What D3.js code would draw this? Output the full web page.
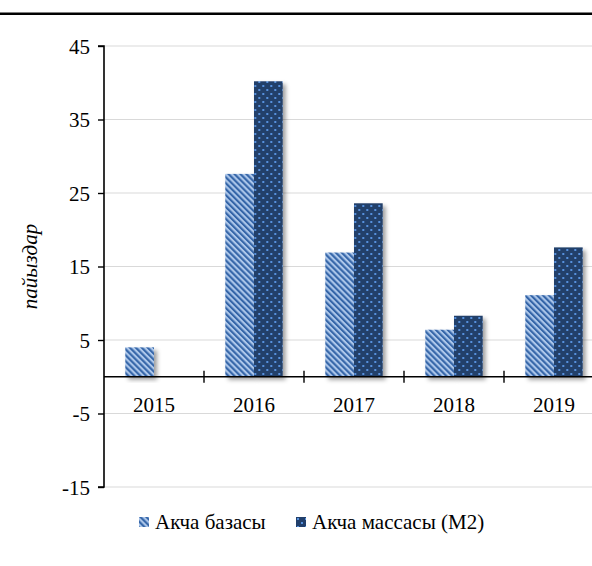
<!DOCTYPE html>
<html>
<head>
<meta charset="utf-8">
<script src="https://cdn.jsdelivr.net/npm/d3@7"></script>
<style>
  html, body { margin: 0; padding: 0; background: #fff; }
  svg { display: block; }
  svg text { font-family: "Liberation Serif", "Times New Roman", "DejaVu Serif", serif; fill: #000; }
</style>
</head>
<body>
<svg id="chart" width="592" height="566"></svg>
<script>
// Growth rates, percent
const years = ["2015", "2016", "2017", "2018", "2019"];
const baseValues = [4.0, 27.6, 16.9, 6.4, 11.1];      // Акча базасы
const m2Values = [null, 40.2, 23.6, 8.3, 17.6];       // Акча массасы (М2)
const seriesNames = ["Акча базасы", "Акча массасы (М2)"];
const yTicks = [45, 35, 25, 15, 5, -5, -15];
const yTitle = "пайыздар";

const svg = d3.select("#chart");
const W = 592, H = 566;
const plotLeft = 104, plotRight = 604, plotTop = 46, plotBottom = 487;
const FONT = "'Liberation Serif', 'Times New Roman', 'DejaVu Serif', serif";
const FS = 21;

const defs = svg.append("defs");

// diagonal stripes for the monetary base
const stripes = defs.append("pattern")
  .attr("id", "stripes").attr("patternUnits", "userSpaceOnUse")
  .attr("width", 4.2).attr("height", 10)
  .attr("patternTransform", "rotate(-45)");
stripes.append("rect").attr("width", 4.2).attr("height", 10).attr("fill", "#adc7ea");
stripes.append("rect").attr("width", 2.1).attr("height", 10).attr("fill", "#3465a8");

// dotted fill for M2
const dots = defs.append("pattern")
  .attr("id", "dots").attr("patternUnits", "userSpaceOnUse")
  .attr("width", 8).attr("height", 8);
dots.append("rect").attr("width", 8).attr("height", 8).attr("fill", "#213f6b");
dots.append("rect").attr("x", 1).attr("y", 1).attr("width", 2).attr("height", 2).attr("fill", "#5691dd");
dots.append("rect").attr("x", 5).attr("y", 5).attr("width", 2).attr("height", 2).attr("fill", "#5691dd");

const shadow = defs.append("filter").attr("id", "shadow")
  .attr("x", "-30%").attr("y", "-10%").attr("width", "170%").attr("height", "130%");
shadow.append("feDropShadow").attr("dx", 3).attr("dy", 3)
  .attr("stdDeviation", 2.2).attr("flood-color", "#000").attr("flood-opacity", 0.38);

// top rule
svg.append("line").attr("x1", 0).attr("x2", W).attr("y1", 13.8).attr("y2", 13.8)
  .attr("stroke", "#000").attr("stroke-width", 2.4);

const x = d3.scaleBand().domain(years).range([plotLeft, plotRight]).paddingInner(0).paddingOuter(0);
const y = d3.scaleLinear().domain([-15, 45]).range([plotBottom, plotTop]);
const groupW = 57.4;
const xs = d3.scaleBand().domain(seriesNames).range([0, groupW]);

// gridlines
svg.append("g").selectAll("line").data(yTicks).join("line")
  .attr("x1", plotLeft).attr("x2", W)
  .attr("y1", d => y(d)).attr("y2", d => y(d))
  .attr("stroke", "#d9d9d9").attr("stroke-width", 1);

// bars
const groups = svg.append("g").selectAll("g").data(years).join("g")
  .attr("transform", d => `translate(${x(d) + (x.bandwidth() - groupW) / 2},0)`);

groups.each(function(yr, i) {
  const g = d3.select(this);
  const vals = [baseValues[i], m2Values[i]];
  const fills = ["url(#stripes)", "url(#dots)"];
  vals.forEach((v, j) => {
    if (v == null) return;
    g.append("rect")
      .attr("x", xs(seriesNames[j]))
      .attr("width", xs.bandwidth())
      .attr("y", y(Math.max(0, v)))
      .attr("height", Math.abs(y(v) - y(0)))
      .attr("fill", fills[j])
      .attr("filter", "url(#shadow)");
  });
});

// y axis
const yAxis = d3.axisLeft(y).tickValues(yTicks).tickSize(6).tickPadding(8).tickFormat(d => String(d));
const yg = svg.append("g").attr("transform", `translate(${plotLeft},0)`).call(yAxis);
yg.attr("font-family", FONT).attr("font-size", FS);
yg.select(".domain").attr("stroke", "#000").attr("stroke-width", 1.6).attr("d", `M-6,${plotTop}H0V${plotBottom}H-6`);
yg.selectAll(".tick line").attr("stroke", "#000").attr("stroke-width", 1.4);
yg.selectAll(".tick text").attr("dy", "0.34em");

// x axis at zero
const xAxisY = y(0);
svg.append("line").attr("x1", plotLeft).attr("x2", W + 20).attr("y1", xAxisY).attr("y2", xAxisY)
  .attr("stroke", "#000").attr("stroke-width", 1.6);
svg.append("g").selectAll("line").data(years.slice(1)).join("line")
  .attr("x1", d => x(d)).attr("x2", d => x(d))
  .attr("y1", xAxisY - 6).attr("y2", xAxisY + 6)
  .attr("stroke", "#000").attr("stroke-width", 1.4);
svg.append("g").attr("font-family", FONT).selectAll("text").data(years).join("text")
  .attr("x", d => x(d) + x.bandwidth() / 2)
  .attr("y", xAxisY + 35)
  .attr("text-anchor", "middle").attr("font-size", FS)
  .text(d => d);

// y title
svg.append("text")
  .attr("font-family", FONT)
  .attr("transform", `translate(37,${(plotTop + plotBottom) / 2}) rotate(-90)`)
  .attr("text-anchor", "middle").attr("font-size", FS).attr("font-style", "italic")
  .text(yTitle);

// legend
const legend = [
  { name: seriesNames[0], fill: "url(#stripes)", x: 139 },
  { name: seriesNames[1], fill: "url(#dots)", x: 296 }
];
const lg = svg.append("g").attr("font-family", FONT).selectAll("g").data(legend).join("g")
  .attr("transform", d => `translate(${d.x},517)`);
lg.append("rect").attr("width", 10).attr("height", 10).attr("fill", d => d.fill);
lg.append("text").attr("x", 16).attr("y", 12).attr("font-size", FS).text(d => d.name);
</script>
</body>
</html>
